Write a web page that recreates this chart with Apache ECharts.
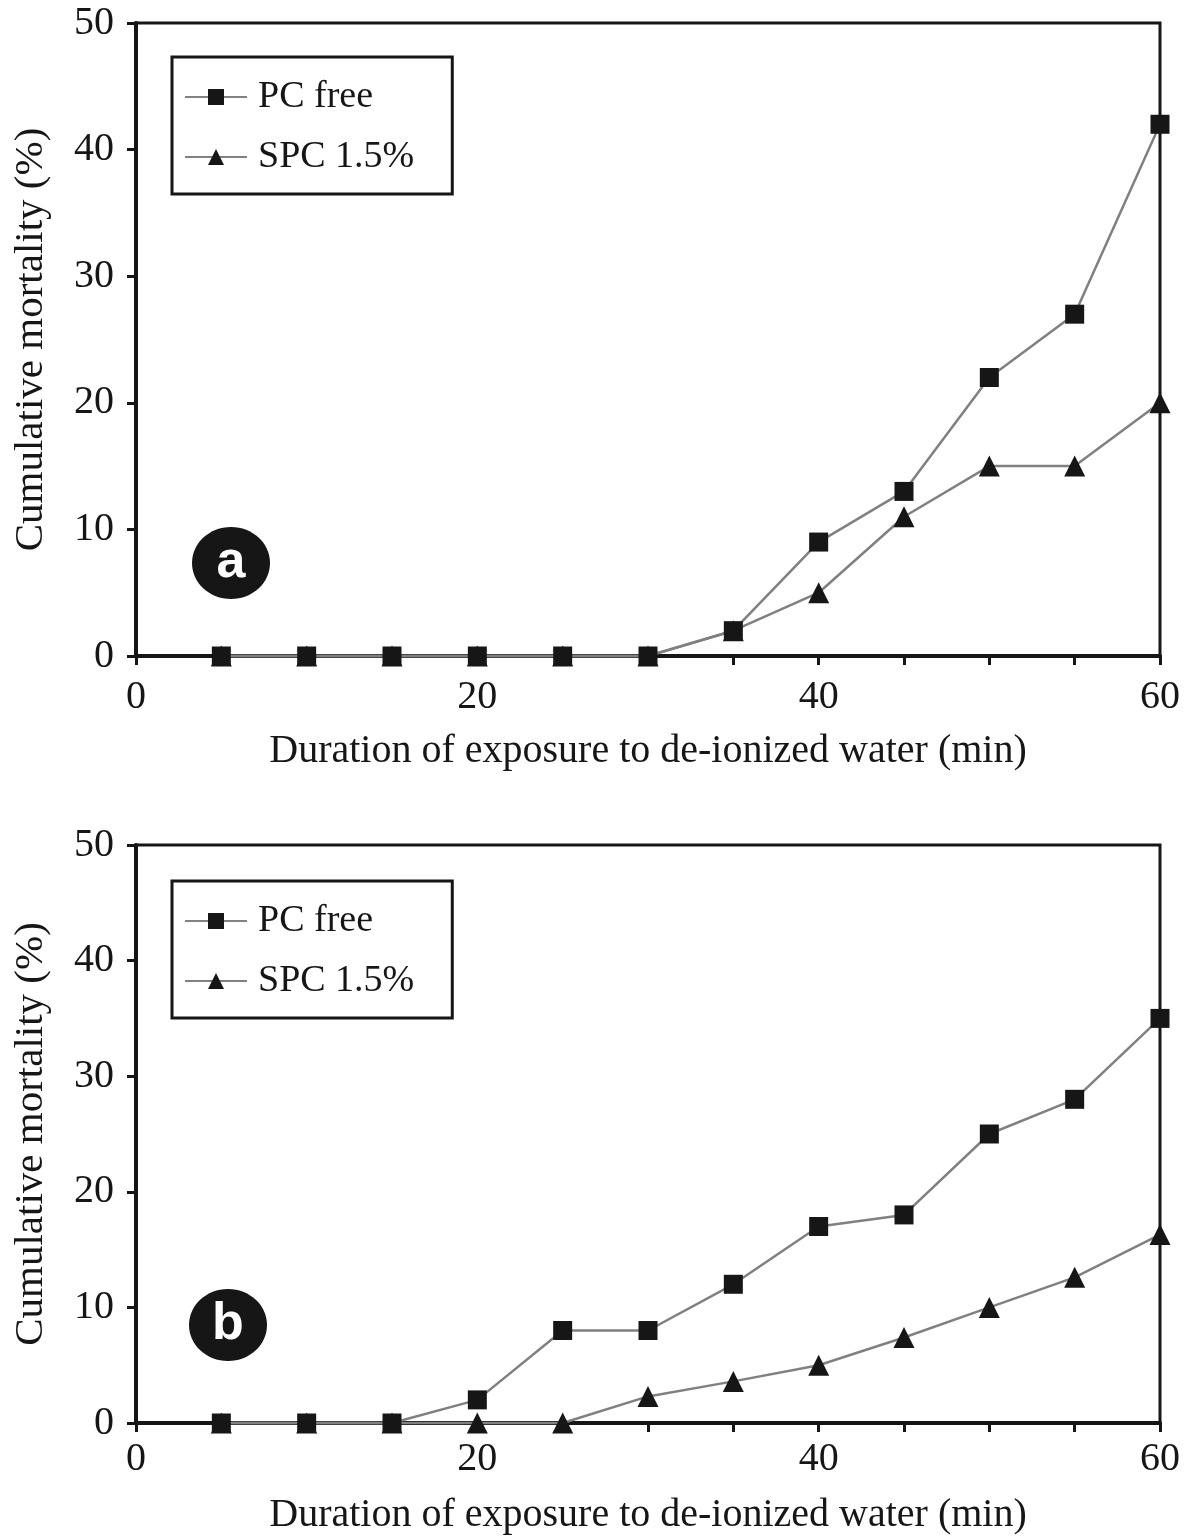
<!DOCTYPE html>
<html>
<head>
<meta charset="utf-8">
<script src="https://cdn.jsdelivr.net/npm/echarts@6/dist/echarts.min.js"></script>
<style>
  html, body { margin: 0; padding: 0; background: #fff; }
  #chart { width: 1185px; height: 1536px; }
</style>
</head>
<body>
<div id="chart"></div>
<script>
// minutes of exposure
const minutes = [5, 10, 15, 20, 25, 30, 35, 40, 45, 50, 55, 60];

// panel a
const pcFreeA = [0, 0, 0, 0, 0, 0, 2, 9, 13, 22, 27, 42];
const spcA    = [0, 0, 0, 0, 0, 0, 2, 5, 11, 15, 15, 20];

// panel b
const pcFreeB = [0, 0, 0, 2, 8, 8, 12, 17, 18, 25, 28, 35];
const spcB    = [0, 0, 0, 0, 0, 2.3, 3.6, 5, 7.4, 10, 12.6, 16.3];

const xTicks = [0, 20, 40, 60];
const yTicks = [0, 10, 20, 30, 40, 50];

const seriesNames = ["PC free", "SPC 1.5%"];
const xTitle = "Duration of exposure to de-ionized water (min)";
const yTitle = "Cumulative mortality (%)";
const panelLabels = ["a", "b"];

const FONT = "'Liberation Serif', 'DejaVu Serif', serif";
const INK = "#161616";
const LINE = "#808080";

const pairs = (ys) => minutes.map((m, i) => [m, ys[i]]);

function xAxisFor(gi, labelMargin, titleGap) {
  return {
    gridIndex: gi,
    type: "value",
    min: 0, max: 60, interval: 5,
    name: xTitle,
    nameLocation: "middle",
    nameGap: titleGap,
    nameTextStyle: { fontFamily: FONT, fontSize: 40, color: INK },
    axisLine: { show: true, onZero: false, lineStyle: { color: INK, width: 4 } },
    axisTick: { show: true, inside: false, length: 9, lineStyle: { color: INK, width: 3 } },
    axisLabel: {
      margin: labelMargin,
      fontFamily: FONT, fontSize: 40, color: INK,
      formatter: v => xTicks.includes(v) ? String(v) : ""
    },
    splitLine: { show: false }
  };
}

function yAxisFor(gi) {
  return {
    gridIndex: gi,
    type: "value",
    min: 0, max: 50, interval: 10,
    name: yTitle,
    nameLocation: "middle",
    nameGap: 84,
    nameTextStyle: { fontFamily: FONT, fontSize: 41, color: INK, padding: [0, 0, 0, 0] },
    axisLine: { show: true, lineStyle: { color: INK, width: 4 } },
    axisTick: { show: true, inside: false, length: 9, lineStyle: { color: INK, width: 3 } },
    axisLabel: {
      margin: 22,
      fontFamily: FONT, fontSize: 40, color: INK,
      formatter: v => yTicks.includes(v) ? String(v) : ""
    },
    splitLine: { show: false }
  };
}

function lineSeries(name, symbol, size, data, gi) {
  return {
    name: name,
    type: "line",
    xAxisIndex: gi,
    yAxisIndex: gi,
    data: data,
    symbol: symbol,
    symbolSize: size,
    showAllSymbol: true,
    clip: false,
    lineStyle: { color: LINE, width: 2.5 },
    itemStyle: { color: INK, borderColor: INK, borderWidth: 0 },
    emphasis: { disabled: true },
    animation: false
  };
}

function legendFor(id, top) {
  return {
    id: id,
    orient: "vertical",
    left: 172,
    top: top,
    data: seriesNames,
    backgroundColor: "#fff",
    borderColor: INK,
    borderWidth: 3,
    borderRadius: 0,
    padding: [21, 38, 18, 12],
    itemGap: 22,
    itemWidth: 62,
    itemHeight: 20,
    textStyle: { fontFamily: FONT, fontSize: 38, color: INK, padding: [0, 0, 0, 6] },
    selectedMode: false
  };
}

function badge(cx, cy, letter) {
  return {
    type: "group",
    children: [
      { type: "ellipse", shape: { cx: cx, cy: cy, rx: 39, ry: 36 }, style: { fill: INK } },
      {
        type: "text",
        x: cx, y: cy,
        style: {
          text: letter,
          fill: "#fff",
          font: "bold 52px 'Liberation Sans', 'DejaVu Sans', sans-serif",
          align: "center",
          verticalAlign: "middle"
        }
      }
    ]
  };
}

const chart = echarts.init(document.getElementById("chart"), null, { renderer: "canvas" });

chart.setOption({
  backgroundColor: "#fff",
  animation: false,
  grid: [
    { left: 136, top: 23, width: 1024, height: 633, show: true, borderColor: INK, borderWidth: 3, backgroundColor: "transparent" },
    { left: 136, top: 845, width: 1024, height: 581, show: true, borderColor: INK, borderWidth: 3, backgroundColor: "transparent" }
  ],
  legend: [legendFor("lgA", 57), legendFor("lgB", 881)],
  xAxis: [xAxisFor(0, 21, 75), xAxisFor(1, 16, 72)],
  yAxis: [yAxisFor(0), yAxisFor(1)],
  series: [
    // SPC drawn first so the PC free squares sit on top where both are zero
    lineSeries(seriesNames[1], "triangle", 21, pairs(spcA), 0),
    lineSeries(seriesNames[0], "rect", 19, pairs(pcFreeA), 0),
    lineSeries(seriesNames[1], "triangle", 21, pairs(spcB), 1),
    lineSeries(seriesNames[0], "rect", 19, pairs(pcFreeB), 1)
  ],
  graphic: [
    badge(231, 563, panelLabels[0]),
    badge(228, 1325, panelLabels[1])
  ]
});
</script>
</body>
</html>
